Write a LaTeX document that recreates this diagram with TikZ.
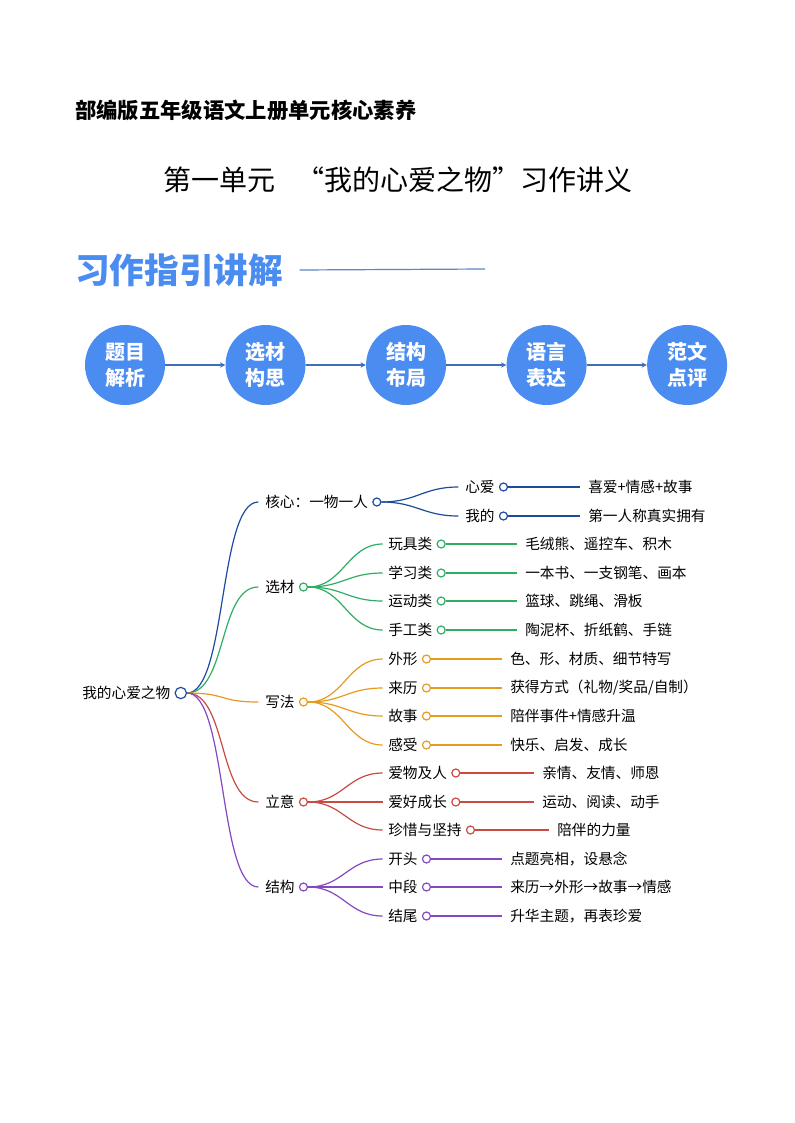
\documentclass[tikz,border=0pt]{standalone}
\usepackage{fontspec}
\setmainfont{Noto Sans CJK SC}
\usetikzlibrary{arrows.meta,positioning}
\definecolor{StepBlue}{HTML}{4A8CF0}
\definecolor{FlowBlue}{HTML}{3F6FB8}
\definecolor{CoreBlue}{HTML}{1D4C9E}
\definecolor{MatGreen}{HTML}{2EAD64}
\definecolor{WayOrange}{HTML}{E69B1F}
\definecolor{IdeaRed}{HTML}{C84B42}
\definecolor{FramePurple}{HTML}{8548C0}

\begin{document}
\begin{tikzpicture}[x=0.75pt,y=-0.75pt,node distance=45pt,every node/.style={font=\fontsize{11}{13}\selectfont,inner sep=0pt},stepcirc/.style={circle,fill=StepBlue,minimum size=60pt,text=white,align=center,font=\fontsize{15}{19.5}\selectfont\bfseries},flow/.style={-{Stealth[length=4pt,width=4pt]},FlowBlue,line width=0.8pt},dot/.style={circle,draw,fill=white,line width=0.9pt,minimum size=6pt},twig/.style={line width=0.9pt},leaf/.style={anchor=west,inner xsep=6pt}]
\path (0,0) rectangle (794,1123);
% titles
\node[anchor=west,font=\fontsize{16}{18}\selectfont\bfseries] (top) at (75,110) {部编版五年级语文上册单元核心素养};
\node[font=\fontsize{21}{24}\selectfont] (title) at (398,180) {第一单元\hspace{16pt}“我的心爱之物”习作讲义};
\node[anchor=west,font=\fontsize{26}{30}\selectfont\bfseries,text=StepBlue] (head) at (75,270) {习作指引讲解};
\coordinate (ruleEnd) at (485,269);
\draw[FlowBlue!85,line width=0.9pt] ([xshift=12pt]head.east) -- (ruleEnd);
% five steps
\node[stepcirc] (s1) at (125,365) {题目\\解析};
\node[stepcirc,right=of s1] (s2) {选材\\构思};
\node[stepcirc,right=of s2] (s3) {结构\\布局};
\node[stepcirc,right=of s3] (s4) {语言\\表达};
\node[stepcirc,right=of s4] (s5) {范文\\点评};
\draw[flow] (s1)--(s2);\draw[flow] (s2)--(s3);\draw[flow] (s3)--(s4);\draw[flow] (s4)--(s5);
% mind map: root
\node[anchor=west] (root) at (82,693) {我的心爱之物};
\node[dot,draw=CoreBlue,minimum size=8.5pt,right=3pt of root] (r0) {};
% main branches
\node[anchor=west] (core) at (265,502) {核心：一物一人};
\node[dot,draw=CoreBlue,right=3pt of core] (c0) {};
\node[anchor=west] (mat) at (265,587) {选材};
\node[dot,draw=MatGreen,right=3pt of mat] (m0) {};
\node[anchor=west] (way) at (265,702) {写法};
\node[dot,draw=WayOrange,right=3pt of way] (w0) {};
\node[anchor=west] (idea) at (265,802) {立意};
\node[dot,draw=IdeaRed,right=3pt of idea] (i0) {};
\node[anchor=west] (frame) at (265,887) {结构};
\node[dot,draw=FramePurple,right=3pt of frame] (f0) {};
\draw[twig,CoreBlue] (r0.east) .. controls +(40,0) and +(-40,0) .. ([xshift=-5pt]core.west);
\draw[twig,MatGreen] (r0.east) .. controls +(40,0) and +(-40,0) .. ([xshift=-5pt]mat.west);
\draw[twig,WayOrange] (r0.east) .. controls +(40,0) and +(-40,0) .. ([xshift=-5pt]way.west);
\draw[twig,IdeaRed] (r0.east) .. controls +(40,0) and +(-40,0) .. ([xshift=-5pt]idea.west);
\draw[twig,FramePurple] (r0.east) .. controls +(40,0) and +(-40,0) .. ([xshift=-5pt]frame.west);
% core
\node[anchor=west] (c1) at (465,487) {心爱};
\node[dot,draw=CoreBlue,right=3pt of c1] (c1d) {};
\node[leaf] (c1t) at (580,487) {喜爱+情感+故事};
\node[anchor=west] (c2) at (465,516) {我的};
\node[dot,draw=CoreBlue,right=3pt of c2] (c2d) {};
\node[leaf] (c2t) at (580,516) {第一人称真实拥有};
\draw[twig,CoreBlue] (c0.east) .. controls +(35,0) and +(-35,0) .. ([xshift=-5pt]c1.west);
\draw[twig,CoreBlue] (c0.east) .. controls +(35,0) and +(-35,0) .. ([xshift=-5pt]c2.west);
\draw[twig,CoreBlue,line width=1.1pt] (c1d)--(c1t.west);\draw[twig,CoreBlue,line width=1.1pt] (c2d)--(c2t.west);
% material
\node[anchor=west] (m1) at (388,544) {玩具类};
\node[dot,draw=MatGreen,right=3pt of m1] (m1d) {};
\node[leaf] (m1t) at (517,544) {毛绒熊、遥控车、积木};
\node[anchor=west] (m2) at (388,573) {学习类};
\node[dot,draw=MatGreen,right=3pt of m2] (m2d) {};
\node[leaf] (m2t) at (517,573) {一本书、一支钢笔、画本};
\node[anchor=west] (m3) at (388,601) {运动类};
\node[dot,draw=MatGreen,right=3pt of m3] (m3d) {};
\node[leaf] (m3t) at (517,601) {篮球、跳绳、滑板};
\node[anchor=west] (m4) at (388,630) {手工类};
\node[dot,draw=MatGreen,right=3pt of m4] (m4d) {};
\node[leaf] (m4t) at (517,630) {陶泥杯、折纸鹤、手链};
\draw[twig,MatGreen] (m0.east) .. controls +(35,0) and +(-35,0) .. ([xshift=-4pt]m1.west);
\draw[twig,MatGreen] (m0.east) .. controls +(35,0) and +(-35,0) .. ([xshift=-4pt]m2.west);
\draw[twig,MatGreen] (m0.east) .. controls +(35,0) and +(-35,0) .. ([xshift=-4pt]m3.west);
\draw[twig,MatGreen] (m0.east) .. controls +(35,0) and +(-35,0) .. ([xshift=-4pt]m4.west);
\draw[twig,MatGreen] (m1d)--(m1t.west);\draw[twig,MatGreen] (m2d)--(m2t.west);\draw[twig,MatGreen] (m3d)--(m3t.west);\draw[twig,MatGreen] (m4d)--(m4t.west);
% writing
\node[anchor=west] (w1) at (388,659) {外形};
\node[dot,draw=WayOrange,right=3pt of w1] (w1d) {};
\node[leaf] (w1t) at (502,659) {色、形、材质、细节特写};
\node[anchor=west] (w2) at (388,688) {来历};
\node[dot,draw=WayOrange,right=3pt of w2] (w2d) {};
\node[leaf] (w2t) at (502,688) {获得方式（礼物/奖品/自制）};
\node[anchor=west] (w3) at (388,716) {故事};
\node[dot,draw=WayOrange,right=3pt of w3] (w3d) {};
\node[leaf] (w3t) at (502,716) {陪伴事件+情感升温};
\node[anchor=west] (w4) at (388,745) {感受};
\node[dot,draw=WayOrange,right=3pt of w4] (w4d) {};
\node[leaf] (w4t) at (502,745) {快乐、启发、成长};
\draw[twig,WayOrange] (w0.east) .. controls +(35,0) and +(-35,0) .. ([xshift=-4pt]w1.west);
\draw[twig,WayOrange] (w0.east) .. controls +(35,0) and +(-35,0) .. ([xshift=-4pt]w2.west);
\draw[twig,WayOrange] (w0.east) .. controls +(35,0) and +(-35,0) .. ([xshift=-4pt]w3.west);
\draw[twig,WayOrange] (w0.east) .. controls +(35,0) and +(-35,0) .. ([xshift=-4pt]w4.west);
\draw[twig,WayOrange] (w1d)--(w1t.west);\draw[twig,WayOrange] (w2d)--(w2t.west);\draw[twig,WayOrange] (w3d)--(w3t.west);\draw[twig,WayOrange] (w4d)--(w4t.west);
% meaning
\node[anchor=west] (i1) at (388,773) {爱物及人};
\node[dot,draw=IdeaRed,right=3pt of i1] (i1d) {};
\node[leaf] (i1t) at (534,773) {亲情、友情、师恩};
\node[anchor=west] (i2) at (388,802) {爱好成长};
\node[dot,draw=IdeaRed,right=3pt of i2] (i2d) {};
\node[leaf] (i2t) at (534,802) {运动、阅读、动手};
\node[anchor=west] (i3) at (388,830) {珍惜与坚持};
\node[dot,draw=IdeaRed,right=3pt of i3] (i3d) {};
\node[leaf] (i3t) at (549,830) {陪伴的力量};
\draw[twig,IdeaRed] (i0.east) .. controls +(35,0) and +(-35,0) .. ([xshift=-4pt]i1.west);
\draw[twig,IdeaRed] (i0.east) .. controls +(35,0) and +(-35,0) .. ([xshift=-4pt]i2.west);
\draw[twig,IdeaRed] (i0.east) .. controls +(35,0) and +(-35,0) .. ([xshift=-4pt]i3.west);
\draw[twig,IdeaRed] (i1d)--(i1t.west);\draw[twig,IdeaRed] (i2d)--(i2t.west);\draw[twig,IdeaRed] (i3d)--(i3t.west);
% structure
\node[anchor=west] (f1) at (388,859) {开头};
\node[dot,draw=FramePurple,right=3pt of f1] (f1d) {};
\node[leaf] (f1t) at (502,859) {点题亮相，设悬念};
\node[anchor=west] (f2) at (388,887) {中段};
\node[dot,draw=FramePurple,right=3pt of f2] (f2d) {};
\node[leaf] (f2t) at (502,887) {来历→外形→故事→情感};
\node[anchor=west] (f3) at (388,916) {结尾};
\node[dot,draw=FramePurple,right=3pt of f3] (f3d) {};
\node[leaf] (f3t) at (502,916) {升华主题，再表珍爱};
\draw[twig,FramePurple] (f0.east) .. controls +(35,0) and +(-35,0) .. ([xshift=-4pt]f1.west);
\draw[twig,FramePurple] (f0.east) .. controls +(35,0) and +(-35,0) .. ([xshift=-4pt]f2.west);
\draw[twig,FramePurple] (f0.east) .. controls +(35,0) and +(-35,0) .. ([xshift=-4pt]f3.west);
\draw[twig,FramePurple] (f1d)--(f1t.west);\draw[twig,FramePurple] (f2d)--(f2t.west);\draw[twig,FramePurple] (f3d)--(f3t.west);
\end{tikzpicture}
\end{document}
